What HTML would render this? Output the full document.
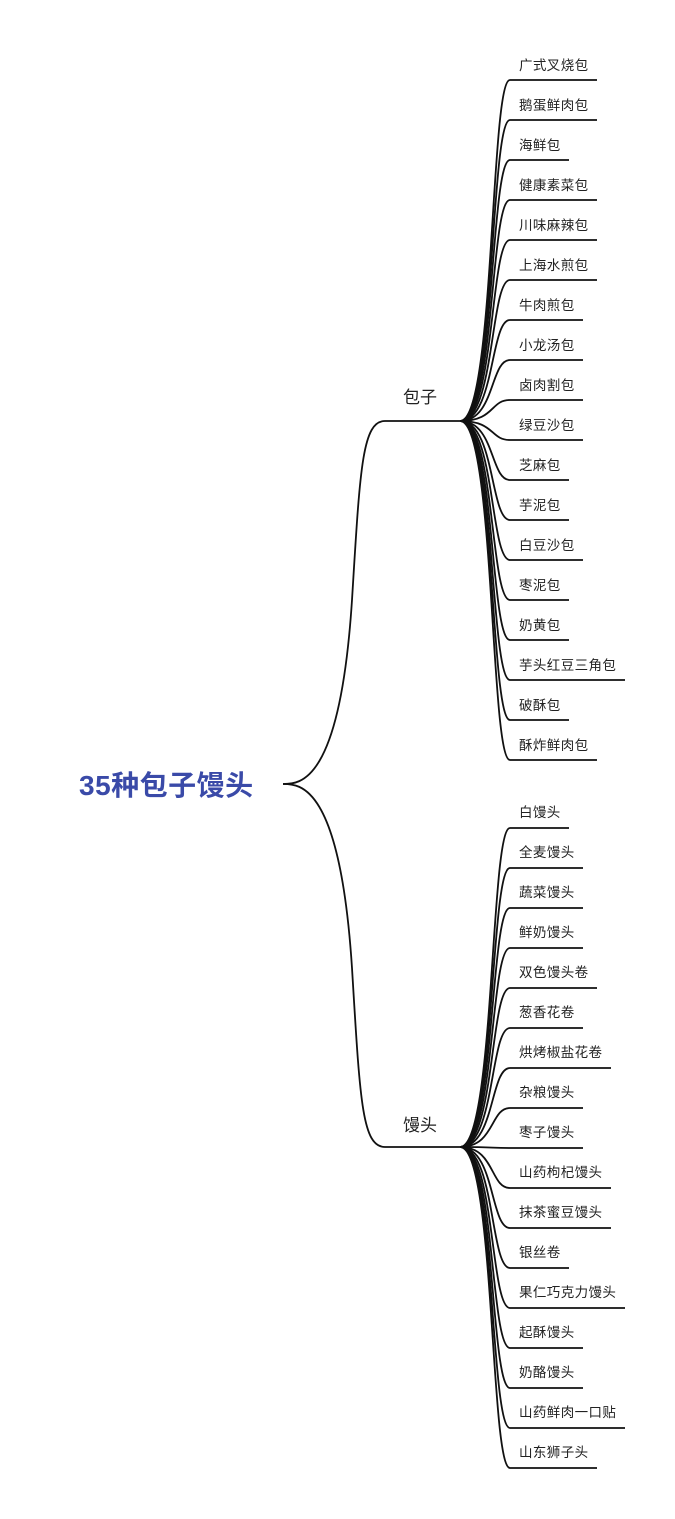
<!DOCTYPE html>
<html><head><meta charset="utf-8"><style>
html,body{margin:0;padding:0;background:#fff;}
svg{display:block;}
text{font-family:"Liberation Sans","Noto Sans CJK SC",sans-serif;fill:#222;}
.l{font-size:13.5px;letter-spacing:0.4px;}
</style></head><body>
<svg width="675" height="1519" viewBox="0 0 675 1519" xmlns="http://www.w3.org/2000/svg">
<g fill="none" stroke="#111" stroke-width="1.8">
<path d="M283 784 C 300 784, 340 784, 352 600 C 360 470, 362 421, 385 421 L460 421"/>
<path d="M283 784 C 300 784, 340 784, 352 968 C 360 1100, 362 1147, 385 1147 L460 1147"/>
<path d="M460 421 C495 421,490 80,510 80 L597 80"/>
<path d="M460 421 C495 421,490 120,510 120 L597 120"/>
<path d="M460 421 C495 421,490 160,510 160 L569 160"/>
<path d="M460 421 C495 421,490 200,510 200 L597 200"/>
<path d="M460 421 C495 421,490 240,510 240 L597 240"/>
<path d="M460 421 C495 421,490 280,510 280 L597 280"/>
<path d="M460 421 C495 421,490 320,510 320 L583 320"/>
<path d="M460 421 C495 421,490 360,510 360 L583 360"/>
<path d="M460 421 C495 421,490 400,510 400 L583 400"/>
<path d="M460 421 C495 421,490 440,510 440 L583 440"/>
<path d="M460 421 C495 421,490 480,510 480 L569 480"/>
<path d="M460 421 C495 421,490 520,510 520 L569 520"/>
<path d="M460 421 C495 421,490 560,510 560 L583 560"/>
<path d="M460 421 C495 421,490 600,510 600 L569 600"/>
<path d="M460 421 C495 421,490 640,510 640 L569 640"/>
<path d="M460 421 C495 421,490 680,510 680 L625 680"/>
<path d="M460 421 C495 421,490 720,510 720 L569 720"/>
<path d="M460 421 C495 421,490 760,510 760 L597 760"/>
<path d="M460 1147 C495 1147,490 828,510 828 L569 828"/>
<path d="M460 1147 C495 1147,490 868,510 868 L583 868"/>
<path d="M460 1147 C495 1147,490 908,510 908 L583 908"/>
<path d="M460 1147 C495 1147,490 948,510 948 L583 948"/>
<path d="M460 1147 C495 1147,490 988,510 988 L597 988"/>
<path d="M460 1147 C495 1147,490 1028,510 1028 L583 1028"/>
<path d="M460 1147 C495 1147,490 1068,510 1068 L611 1068"/>
<path d="M460 1147 C495 1147,490 1108,510 1108 L583 1108"/>
<path d="M460 1147 C495 1147,490 1148,510 1148 L583 1148"/>
<path d="M460 1147 C495 1147,490 1188,510 1188 L611 1188"/>
<path d="M460 1147 C495 1147,490 1228,510 1228 L611 1228"/>
<path d="M460 1147 C495 1147,490 1268,510 1268 L569 1268"/>
<path d="M460 1147 C495 1147,490 1308,510 1308 L625 1308"/>
<path d="M460 1147 C495 1147,490 1348,510 1348 L583 1348"/>
<path d="M460 1147 C495 1147,490 1388,510 1388 L583 1388"/>
<path d="M460 1147 C495 1147,490 1428,510 1428 L625 1428"/>
<path d="M460 1147 C495 1147,490 1468,510 1468 L597 1468"/>
</g>
<text x="79" y="795" style="font-size:28px;font-weight:bold;fill:#3a4aa8;letter-spacing:0.5px;">35种包子馒头</text>
<text x="403" y="403" style="font-size:17px;">包子</text>
<text x="403" y="1131" style="font-size:17px;">馒头</text>
<g>
<text x="519" y="70" class="l">广式叉烧包</text>
<text x="519" y="110" class="l">鹅蛋鲜肉包</text>
<text x="519" y="150" class="l">海鲜包</text>
<text x="519" y="190" class="l">健康素菜包</text>
<text x="519" y="230" class="l">川味麻辣包</text>
<text x="519" y="270" class="l">上海水煎包</text>
<text x="519" y="310" class="l">牛肉煎包</text>
<text x="519" y="350" class="l">小龙汤包</text>
<text x="519" y="390" class="l">卤肉割包</text>
<text x="519" y="430" class="l">绿豆沙包</text>
<text x="519" y="470" class="l">芝麻包</text>
<text x="519" y="510" class="l">芋泥包</text>
<text x="519" y="550" class="l">白豆沙包</text>
<text x="519" y="590" class="l">枣泥包</text>
<text x="519" y="630" class="l">奶黄包</text>
<text x="519" y="670" class="l">芋头红豆三角包</text>
<text x="519" y="710" class="l">破酥包</text>
<text x="519" y="750" class="l">酥炸鲜肉包</text>
<text x="519" y="817" class="l">白馒头</text>
<text x="519" y="857" class="l">全麦馒头</text>
<text x="519" y="897" class="l">蔬菜馒头</text>
<text x="519" y="937" class="l">鲜奶馒头</text>
<text x="519" y="977" class="l">双色馒头卷</text>
<text x="519" y="1017" class="l">葱香花卷</text>
<text x="519" y="1057" class="l">烘烤椒盐花卷</text>
<text x="519" y="1097" class="l">杂粮馒头</text>
<text x="519" y="1137" class="l">枣子馒头</text>
<text x="519" y="1177" class="l">山药枸杞馒头</text>
<text x="519" y="1217" class="l">抹茶蜜豆馒头</text>
<text x="519" y="1257" class="l">银丝卷</text>
<text x="519" y="1297" class="l">果仁巧克力馒头</text>
<text x="519" y="1337" class="l">起酥馒头</text>
<text x="519" y="1377" class="l">奶酪馒头</text>
<text x="519" y="1417" class="l">山药鲜肉一口贴</text>
<text x="519" y="1457" class="l">山东狮子头</text>
</g>
</svg>
</body></html>
